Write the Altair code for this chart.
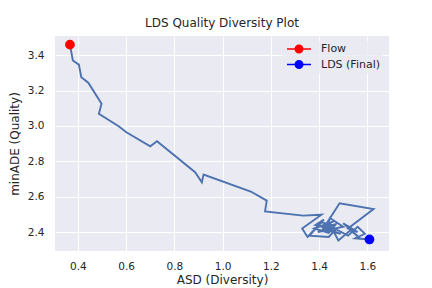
import altair as alt
import pandas as pd

# Optimization trajectory (ASD diversity vs minADE quality)
asd = [0.367, 0.379, 0.404, 0.414, 0.443, 0.498, 0.487, 0.569, 0.601, 0.700,
       0.728, 0.886, 0.914, 0.921, 1.117, 1.183, 1.176, 1.334, 1.410,
       1.330, 1.352, 1.420, 1.385, 1.470, 1.440, 1.360, 1.410, 1.455, 1.395,
       1.500, 1.445, 1.430, 1.490, 1.410, 1.460, 1.380, 1.440, 1.470, 1.420,
       1.485, 1.626, 1.520, 1.560, 1.500, 1.570,
       1.530, 1.480, 1.450, 1.520, 1.560, 1.590, 1.550, 1.609]
minade = [3.459, 3.370, 3.346, 3.275, 3.244, 3.125, 3.068, 2.998, 2.964, 2.885,
          2.913, 2.738, 2.681, 2.725, 2.629, 2.578, 2.517, 2.493, 2.498,
          2.420, 2.372, 2.470, 2.440, 2.415, 2.372, 2.380, 2.455, 2.440, 2.400,
          2.430, 2.480, 2.410, 2.390, 2.430, 2.460, 2.420, 2.395, 2.445, 2.425,
          2.563, 2.530, 2.420, 2.400, 2.450, 2.365,
          2.410, 2.352, 2.430, 2.380, 2.430, 2.390, 2.365, 2.358]

series_names = ["Flow", "LDS (Final)"]
series_colors = ["#FF0000", "#0000FF"]
x_ticks = [0.4, 0.6, 0.8, 1.0, 1.2, 1.4, 1.6]
y_ticks = [2.4, 2.6, 2.8, 3.0, 3.2, 3.4]

path_df = pd.DataFrame({"i": list(range(len(asd))), "asd": asd, "minade": minade})
pts_df = pd.DataFrame({
    "asd": [asd[0], asd[-1]],
    "minade": [minade[0], minade[-1]],
    "series": series_names,
})

xs = alt.Scale(domain=[0.305, 1.69], nice=False, zero=False)
ys = alt.Scale(domain=[2.293, 3.508], nice=False, zero=False)

x_axis = alt.Axis(values=x_ticks, format=".1f", title="ASD (Diversity)")
y_axis = alt.Axis(values=y_ticks, format=".1f", title="minADE (Quality)")

line = alt.Chart(path_df).mark_line(color="#4C72B0", strokeWidth=1.9).encode(
    x=alt.X("asd:Q", scale=xs, axis=x_axis),
    y=alt.Y("minade:Q", scale=ys, axis=y_axis),
    order=alt.Order("i:Q"),
)

cscale_f = alt.Scale(domain=series_names, range=series_colors)
cscale_s = alt.Scale(domain=series_names, range=series_colors)

pts = alt.Chart(pts_df).mark_point(filled=True, size=60, opacity=1).encode(
    x=alt.X("asd:Q", scale=xs),
    y=alt.Y("minade:Q", scale=ys),
    fill=alt.Fill("series:N", scale=cscale_f, legend=alt.Legend(title=None)),
    stroke=alt.Stroke("series:N", scale=cscale_s, legend=alt.Legend(title=None)),
)

chart = alt.layer(line, pts).properties(
    width=334,
    height=215,
    autosize=alt.AutoSizeParams(type="none"),
    padding={"left": 47, "top": 28, "right": 35, "bottom": 37},
    title=alt.Title("LDS Quality Diversity Plot", fontSize=12, font="DejaVu Sans",
                    fontWeight="normal", color="#262626", offset=6, anchor="middle"),
).configure(
    font="DejaVu Sans",
).configure_view(
    fill="#EAEAF2", stroke=None,
).configure_axis(
    grid=True, gridColor="#FFFFFF", gridWidth=1, domain=False, ticks=False, tickSize=0,
    labelFontSize=10.5, labelColor="#262626", labelFont="DejaVu Sans",
    titleFontSize=12, titleColor="#262626", titleFont="DejaVu Sans", titleFontWeight="normal",
).configure_axisX(
    labelPadding=10, titlePadding=3,
).configure_axisY(
    labelPadding=11, titlePadding=6,
).configure_legend(
    orient="none", legendX=228, legendY=5,
    fillColor="rgba(234,234,242,0.8)", padding=2,
    symbolType="M-2.4,0L2.4,0M0.75,0A0.75,0.75,0,1,1,-0.75,0A0.75,0.75,0,1,1,0.75,0",
    symbolSize=100, symbolStrokeWidth=1.5, symbolOffset=8, symbolOpacity=1,
    labelOffset=16, labelFontSize=11, labelColor="#262626", labelFont="DejaVu Sans",
    rowPadding=1.5,
)

chart.save("out.html", embed_options={"renderer": "svg", "actions": False})
